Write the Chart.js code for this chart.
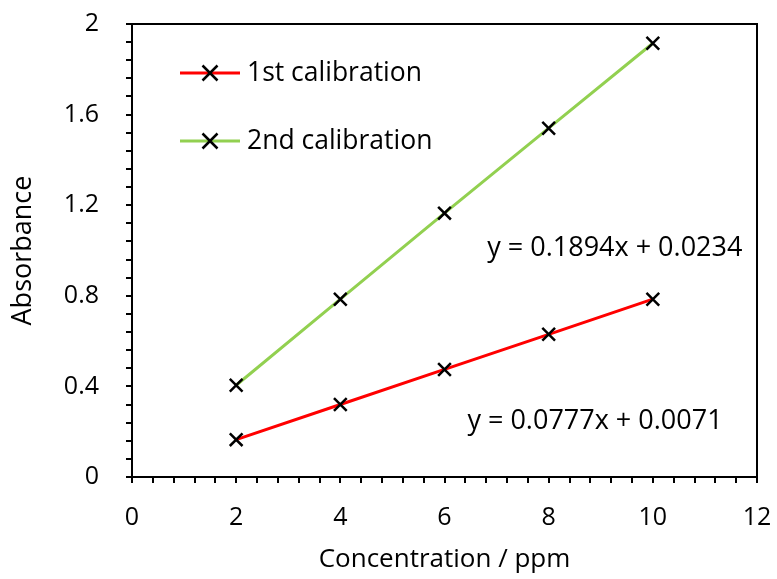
<!DOCTYPE html>
<html>
<head>
<meta charset="utf-8">
<script src="https://cdn.jsdelivr.net/npm/chart.js@4"></script>
<style>
  body { margin: 0; background: #fff; }
  #wrap { width: 777px; height: 579px; }
</style>
</head>
<body>
<div id="wrap"><canvas id="grafico"></canvas></div>
<script>
// dados
const concentracao = [2, 4, 6, 8, 10];
const calibracao1 = [0.165, 0.32, 0.475, 0.63, 0.785];
const calibracao2 = [0.405, 0.785, 1.165, 1.54, 1.915];
const nomesSeries = ['1st calibration', '2nd calibration'];
const equacoes = ['y = 0.1894x + 0.0234', 'y = 0.0777x + 0.0071'];
const ticksX = [0, 2, 4, 6, 8, 10, 12];
const ticksY = [0, 0.4, 0.8, 1.2, 1.6, 2];

const fonte = 'Open Sans';

function pontos(ys) {
    return concentracao.map((x, i) => ({ x: x, y: ys[i] }));
}

function ehMaior(v, lista) {
    return lista.some(t => Math.abs(t - v) < 1e-6);
}

// moldura (topo e direita)
const moldura = {
    id: 'moldura',
    afterDraw(chart) {
        const a = chart.chartArea;
        const ctx = chart.ctx;
        ctx.save();
        ctx.strokeStyle = '#000';
        ctx.lineWidth = 2;
        ctx.beginPath();
        ctx.moveTo(a.left, a.top);
        ctx.lineTo(a.right, a.top);
        ctx.lineTo(a.right, a.bottom);
        ctx.stroke();
        ctx.restore();
    }
};

// legenda dentro do gráfico
const legenda = {
    id: 'legenda',
    afterDraw(chart) {
        const ctx = chart.ctx;
        const lx = [180, 240];
        const ly = [73, 141];
        ctx.save();
        chart.data.datasets.forEach((ds, i) => {
            ctx.strokeStyle = ds.borderColor;
            ctx.lineWidth = 3;
            ctx.beginPath();
            ctx.moveTo(lx[0], ly[i]);
            ctx.lineTo(lx[1], ly[i]);
            ctx.stroke();
            const cx = (lx[0] + lx[1]) / 2, r = 7.5;
            ctx.strokeStyle = '#000';
            ctx.lineWidth = 2.5;
            ctx.beginPath();
            ctx.moveTo(cx - r, ly[i] - r); ctx.lineTo(cx + r, ly[i] + r);
            ctx.moveTo(cx + r, ly[i] - r); ctx.lineTo(cx - r, ly[i] + r);
            ctx.stroke();
            ctx.fillStyle = '#000';
            ctx.font = '26.5px "' + fonte + '"';
            ctx.textBaseline = 'middle';
            ctx.fillText(ds.label, 247, ly[i]);
        });
        ctx.restore();
    }
};

// equações das retas
const textos = {
    id: 'textos',
    afterDraw(chart) {
        const ctx = chart.ctx;
        const sx = chart.scales.x, sy = chart.scales.y;
        const posicoes = [[9.27, 1.01], [8.89, 0.247]];
        ctx.save();
        ctx.fillStyle = '#000';
        ctx.font = '27px "' + fonte + '"';
        ctx.textAlign = 'center';
        ctx.textBaseline = 'middle';
        equacoes.forEach((t, i) => {
            ctx.fillText(t, sx.getPixelForValue(posicoes[i][0]), sy.getPixelForValue(posicoes[i][1]));
        });
        ctx.restore();
    }
};

const ctx = document.getElementById('grafico').getContext('2d');
new Chart(ctx, {
    type: 'scatter',
    data: {
        datasets: [{
            label: nomesSeries[0],
            data: pontos(calibracao1),
            showLine: true,
            borderColor: '#ff0000',
            borderWidth: 3,
            pointStyle: 'crossRot',
            pointRadius: 9,
            pointBorderColor: '#000',
            pointBorderWidth: 2.5,
            pointHoverRadius: 9
        }, {
            label: nomesSeries[1],
            data: pontos(calibracao2),
            showLine: true,
            borderColor: '#92d050',
            borderWidth: 3,
            pointStyle: 'crossRot',
            pointRadius: 9,
            pointBorderColor: '#000',
            pointBorderWidth: 2.5,
            pointHoverRadius: 9
        }]
    },
    options: {
        responsive: true,
        maintainAspectRatio: false,
        animation: false,
        layout: { padding: { left: 0, right: 20, top: 24, bottom: 0 } },
        plugins: {
            legend: { display: false },
            tooltip: { enabled: false }
        },
        scales: {
            x: {
                type: 'linear',
                min: 0,
                max: 12,
                border: { color: '#000', width: 2 },
                grid: { drawOnChartArea: false, drawTicks: true, tickLength: 6, color: '#000', lineWidth: 2 },
                ticks: {
                    stepSize: 0.4,
                    autoSkip: false,
                    maxRotation: 0,
                    padding: 20,
                    color: '#000',
                    font: { family: fonte, size: 25 },
                    callback: v => ehMaior(v, ticksX) ? String(Math.round(v)) : ''
                },
                title: {
                    display: true,
                    text: 'Concentration / ppm',
                    color: '#000',
                    font: { family: fonte, size: 26 },
                    padding: { top: 4 }
                },
                afterFit: s => { s.height = 102; s.paddingLeft = 0; s.paddingRight = 0; }
            },
            y: {
                type: 'linear',
                min: 0,
                max: 2,
                border: { color: '#000', width: 2 },
                grid: { drawOnChartArea: false, drawTicks: true, tickLength: 6, color: '#000', lineWidth: 2 },
                ticks: {
                    stepSize: 0.08,
                    autoSkip: false,
                    padding: 27,
                    color: '#000',
                    font: { family: fonte, size: 25 },
                    callback: v => ehMaior(v, ticksY) ? String(parseFloat(v.toFixed(1))) : ''
                },
                title: {
                    display: true,
                    text: 'Absorbance',
                    color: '#000',
                    font: { family: fonte, size: 27 },
                    padding: { top: 7, bottom: 0 }
                },
                afterFit: s => { s.width = 132; s.paddingTop = 0; s.paddingBottom = 0; }
            }
        }
    },
    plugins: [moldura, legenda, textos]
});
</script>
</body>
</html>
